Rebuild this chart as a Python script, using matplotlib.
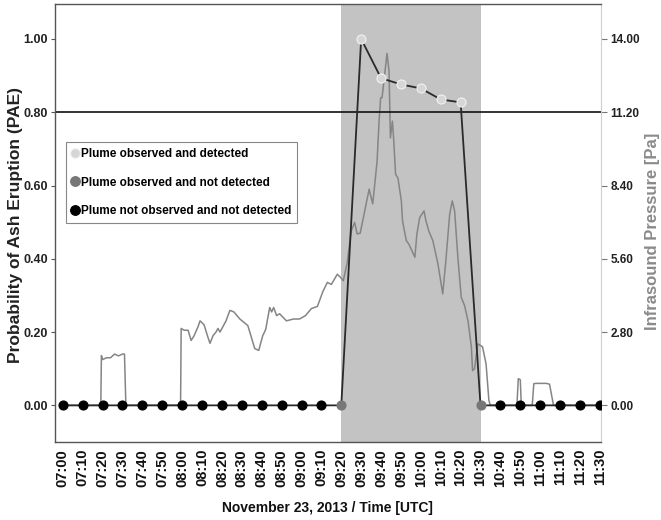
import matplotlib
matplotlib.use("Agg")
import matplotlib.pyplot as plt
from matplotlib.lines import Line2D

# --- data -------------------------------------------------------------
# PAE sampled every 10 minutes (minutes after 07:00)
pae_minutes = list(range(0, 271, 10))
pae_values = [0.0] * 15 + [1.00, 0.893, 0.876, 0.865, 0.835, 0.827] + [0.0] * 7
# 0 = not observed / not detected, 1 = observed / not detected, 2 = observed / detected
pae_class = [0] * 14 + [1] + [2] * 6 + [1] + [0] * 6

tick_labels = ["07:00", "07:10", "07:20", "07:30", "07:40", "07:50",
               "08:00", "08:10", "08:20", "08:30", "08:40", "08:50",
               "09:00", "09:10", "09:20", "09:30", "09:40", "09:50",
               "10:00", "10:10", "10:20", "10:30", "10:40", "10:50",
               "11:00", "11:10", "11:20", "11:30"]

# Infrasound pressure (Pa) against minutes after 07:00
infra_minutes = [0, 19.1, 19.4, 20, 22, 24, 26, 28, 30, 31, 31.7,
                 59.2, 59.5, 61, 63, 64.5, 66, 68, 69, 71, 73, 74, 75.5, 77, 78, 79,
                 82, 84, 86, 89, 93, 94, 96.5, 98.5, 100.5, 102, 104, 105, 106,
                 107.5, 109, 112.4, 116, 119, 122, 125, 128, 130.7, 133, 135, 138,
                 139.5, 141, 143, 145, 146.7, 148, 149.5, 151.8, 152.5, 154, 155.8,
                 157, 158, 159, 159.8, 160.5, 161.8, 163, 164, 164.7, 165.7, 166.3,
                 167.3, 168.5, 170.2, 170.8, 172.7, 174, 177, 178, 179.4, 181.6,
                 182.5, 184, 186, 188.6, 191, 192.5, 194.5, 195.8, 197, 198.6,
                 200.3, 202, 203.7, 205.4, 206, 207, 208.6, 211, 212.8, 214.2,
                 214.9, 228.3, 229, 230, 230.5, 236, 236.8, 238, 243, 244.7,
                 246.7, 270]
infra_pa = [0, 0, 1.90, 1.75, 1.82, 1.82, 1.96, 1.89, 1.96, 1.96, 0,
            0, 2.94, 2.87, 2.87, 2.48, 2.66, 3.01, 3.23, 3.08, 2.59, 2.37, 2.66, 2.80, 2.94, 2.80,
            3.22, 3.63, 3.57, 3.30, 3.05, 2.80, 2.17, 2.10, 2.66, 2.90, 3.74, 3.57, 3.74,
            3.43, 3.50, 3.23, 3.30, 3.30, 3.43, 3.70, 3.78, 4.34, 4.70, 4.62, 5.01,
            4.90, 4.76, 5.46, 6.66, 6.99, 6.55, 6.58, 7.43, 7.70, 8.26, 7.70,
            8.57, 9.34, 10.86, 11.75, 11.76, 12.64, 13.45, 12.77, 10.22, 10.86, 10.22,
            8.83, 8.68, 7.81, 7.04, 6.29, 6.16, 5.66, 6.54, 7.17, 7.43,
            7.07, 6.66, 6.30, 5.40, 4.26, 5.46, 7.31, 7.81, 7.42, 5.66,
            4.13, 3.81, 3.23, 2.23, 1.33, 1.40, 2.35, 2.24, 1.58, 0.20,
            0, 0, 1.02, 0.98, 0, 0, 0.83, 0.84, 0.84, 0.81,
            0, 0]

eruption_span = (140, 210)   # 09:20 - 10:30
pae_threshold = 0.80

class_colors = ["#000000", "#777777", "#d6d6d6"]
class_edges = ["#000000", "#777777", "#f2f2f2"]
class_names = ["Plume not observed and not detected",
               "Plume observed and not detected",
               "Plume observed and detected"]

# --- fonts ------------------------------------------------------------
font = ["Liberation Sans", "DejaVu Sans"]

fig = plt.figure(figsize=(6.61, 5.20), dpi=100)
ax = fig.add_axes([0.083, 0.150, 0.826, 0.842])
ax2 = ax.twinx()

# secondary axis sits underneath the PAE axis
ax.set_zorder(ax2.get_zorder() + 1)
ax.patch.set_visible(False)
ax2.patch.set_visible(True)
ax2.patch.set_facecolor("white")

ax2.axvspan(*eruption_span, color="#c3c3c3", lw=0, zorder=0)
ax2.plot(infra_minutes, infra_pa, color="#858585", lw=1.1, zorder=2)

ax.axhline(pae_threshold, color="#111111", lw=1.2, zorder=2)
ax.plot(pae_minutes, pae_values, color="#2a2a2a", lw=1.3, zorder=3)
for cls in range(3):
    xs = [m for m, c in zip(pae_minutes, pae_class) if c == cls]
    ys = [v for v, c in zip(pae_values, pae_class) if c == cls]
    ax.plot(xs, ys, ls="none", marker="o", ms=6.5, mfc=class_colors[cls],
            mec=class_edges[cls], mew=0.8, zorder=4)

# --- axes limits and ticks -----------------------------------------------
ax.set_xlim(-4, 270.5)
ax.set_ylim(-0.10, 1.095)
ax2.set_ylim(-0.10 * 14, 1.095 * 14)

yt = [0.0, 0.2, 0.4, 0.6, 0.8, 1.0]
ax.set_yticks(yt)
ax.set_yticklabels([f"{v:.2f}" for v in yt], family=font,
                   fontweight="bold", fontsize=9, color="#222222")
rt = [0.0, 2.8, 5.6, 8.4, 11.2, 14.0]
ax2.set_yticks(rt)
ax2.set_yticklabels([f"{v:.2f}" for v in rt], family=font,
                    fontweight="bold", fontsize=8.5, color="#222222")

ax.set_xticks(pae_minutes)
ax.set_xticklabels(tick_labels, rotation=90, family=font,
                   fontweight="bold", fontsize=10.5, color="#111111")
ax.tick_params(axis="x", length=0, pad=5)
ax.tick_params(axis="y", length=3, width=0.8, color="#555555", pad=2)
ax2.tick_params(axis="y", length=4, width=0.8, color="#777777", pad=3)

for side in ["left", "top", "bottom"]:
    ax.spines[side].set_color("#555555")
    ax.spines[side].set_linewidth(1.0)
ax.spines["right"].set_visible(False)
for side in ["left", "top", "bottom"]:
    ax2.spines[side].set_visible(False)
ax2.spines["right"].set_color("#cfcfcf")
ax2.spines["right"].set_linewidth(0.8)

ax.set_ylabel("Probability of Ash Eruption (PAE)", family=font,
              fontweight="bold", fontsize=12.5, color="#222222")
ax.yaxis.set_label_coords(-0.059, 0.495)
ax2.set_ylabel("Infrasound Pressure [Pa]", family=font, fontweight="bold",
               fontsize=12, color="#8a8a8a")
ax2.yaxis.set_label_coords(1.081, 0.482)
ax.set_xlabel("November 23, 2013 / Time [UTC]", family=font,
              fontweight="bold", fontsize=10, color="#111111", labelpad=10)

# --- legend ------------------------------------------------------------
handles = [Line2D([], [], ls="none", marker="o", ms=7, mfc=class_colors[c],
                  mec=class_edges[c], mew=0.8) for c in (2, 1, 0)]
labels = [class_names[c] for c in (2, 1, 0)]
leg = ax.legend(handles, labels, loc="upper left", bbox_to_anchor=(0.02, 0.685),
                borderaxespad=0, fancybox=False, framealpha=1, handlelength=0.6,
                handletextpad=0.2, labelspacing=1.4, borderpad=0.5,
                prop={"family": font, "weight": "bold", "size": 8.5})
leg.get_frame().set_edgecolor("#888888")
leg.get_frame().set_linewidth(0.8)

fig.savefig("out.png", dpi=100, facecolor="white")
